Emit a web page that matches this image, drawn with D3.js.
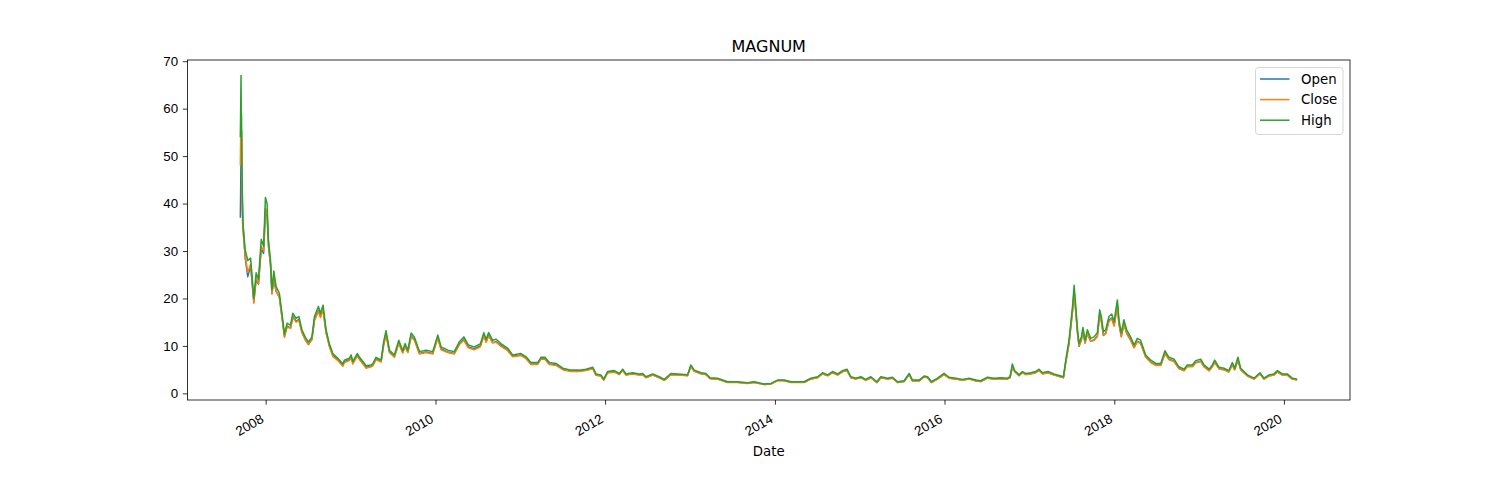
<!DOCTYPE html>
<html>
<head>
<meta charset="utf-8">
<script src="https://cdn.jsdelivr.net/npm/d3@7"></script>
<style>
    body { margin: 0; background: #fff; }
    svg { font-family: "DejaVu Sans", sans-serif; }
</style>
</head>
<body>
<div id="chart"></div>
<script>

// Values (one row per sample)
var dates = [
    '2007-09-14', '2007-09-17', '2007-09-18', '2007-09-19', '2007-09-21', '2007-09-25',
    '2007-10-05', '2007-10-16', '2007-10-28', '2007-11-04', '2007-11-11', '2007-11-21',
    '2007-12-01', '2007-12-13', '2007-12-23', '2007-12-31', '2008-01-07', '2008-01-13',
    '2008-01-22', '2008-01-28', '2008-02-05', '2008-02-15', '2008-02-29', '2008-03-11',
    '2008-03-22', '2008-04-02', '2008-04-17', '2008-04-27', '2008-05-11', '2008-05-23',
    '2008-06-05', '2008-06-19', '2008-07-03', '2008-07-18', '2008-07-29', '2008-08-15',
    '2008-08-24', '2008-09-04', '2008-09-17', '2008-10-01', '2008-10-16', '2008-11-07',
    '2008-11-28', '2008-12-05', '2008-12-26', '2009-01-03', '2009-01-10', '2009-01-29',
    '2009-02-08', '2009-03-01', '2009-03-08', '2009-03-30', '2009-04-06', '2009-04-20',
    '2009-05-12', '2009-05-23', '2009-06-02', '2009-06-17', '2009-07-08', '2009-07-27',
    '2009-08-13', '2009-08-23', '2009-09-04', '2009-09-18', '2009-10-02', '2009-10-24',
    '2009-11-21', '2009-12-20', '2010-01-11', '2010-01-25', '2010-02-23', '2010-03-23',
    '2010-04-14', '2010-05-03', '2010-05-22', '2010-06-17', '2010-07-13', '2010-07-28',
    '2010-08-07', '2010-08-18', '2010-09-04', '2010-09-19', '2010-10-10', '2010-11-08',
    '2010-11-29', '2011-01-04', '2011-01-26', '2011-02-16', '2011-03-17', '2011-03-31',
    '2011-04-17', '2011-05-06', '2011-06-04', '2011-07-03', '2011-08-07', '2011-09-12',
    '2011-10-11', '2011-11-09', '2011-11-23', '2011-12-14', '2011-12-26', '2012-01-12',
    '2012-02-10', '2012-03-02', '2012-03-17', '2012-03-31', '2012-04-29', '2012-05-27',
    '2012-06-11', '2012-06-25', '2012-07-24', '2012-08-21', '2012-09-12', '2012-10-10',
    '2012-11-08', '2012-12-21', '2013-01-04', '2013-01-19', '2013-02-17', '2013-03-10',
    '2013-03-28', '2013-04-29', '2013-06-11', '2013-07-24', '2013-09-05', '2013-10-04',
    '2013-11-16', '2013-12-15', '2014-01-12', '2014-02-10', '2014-03-11', '2014-04-09',
    '2014-05-07', '2014-06-05', '2014-07-04', '2014-07-25', '2014-08-16', '2014-09-06',
    '2014-09-28', '2014-10-19', '2014-11-07', '2014-11-24', '2014-12-15', '2015-01-06',
    '2015-01-27', '2015-02-18', '2015-03-16', '2015-04-02', '2015-05-01', '2015-05-22',
    '2015-06-13', '2015-07-11', '2015-08-02', '2015-08-16', '2015-09-14', '2015-10-05',
    '2015-10-20', '2015-11-06', '2015-12-02', '2015-12-30', '2016-01-21', '2016-02-19',
    '2016-03-18', '2016-04-16', '2016-05-15', '2016-06-05', '2016-07-04', '2016-08-01',
    '2016-08-30', '2016-09-28', '2016-10-09', '2016-10-19', '2016-10-29', '2016-11-17',
    '2016-12-01', '2016-12-16', '2017-01-06', '2017-01-28', '2017-02-11', '2017-02-26',
    '2017-03-22', '2017-04-16', '2017-05-27', '2017-06-06', '2017-06-20', '2017-07-05',
    '2017-07-12', '2017-07-19', '2017-07-26', '2017-08-02', '2017-08-12', '2017-08-19',
    '2017-08-28', '2017-09-07', '2017-09-21', '2017-10-06', '2017-10-20', '2017-10-30',
    '2017-11-06', '2017-11-15', '2017-11-25', '2017-12-09', '2017-12-21', '2017-12-31',
    '2018-01-14', '2018-01-21', '2018-01-31', '2018-02-11', '2018-02-23', '2018-03-12',
    '2018-03-27', '2018-04-10', '2018-04-24', '2018-05-16', '2018-06-07', '2018-06-28',
    '2018-07-20', '2018-08-07', '2018-08-24', '2018-09-15', '2018-10-06', '2018-10-28',
    '2018-11-11', '2018-12-03', '2018-12-17', '2019-01-08', '2019-01-22', '2019-02-13',
    '2019-02-27', '2019-03-09', '2019-03-28', '2019-04-18', '2019-05-09', '2019-05-24',
    '2019-06-03', '2019-06-17', '2019-06-29', '2019-07-28', '2019-08-25', '2019-09-20',
    '2019-10-07', '2019-10-29', '2019-11-19', '2019-12-04', '2019-12-25', '2020-01-15',
    '2020-02-06', '2020-02-27'
];

var openValues = [
    37.0, 50.0, 56.0, 54.0, 44.0, 35.5,
    28.5, 24.6, 27.0, 23.0, 19.3, 24.0,
    23.0, 30.5, 29.5, 38.0, 37.5, 31.0,
    27.0, 21.0, 24.0, 21.5, 20.3, 16.2,
    12.0, 14.2, 13.8, 16.2, 15.2, 15.6,
    12.9, 11.4, 10.3, 11.4, 15.5, 17.5,
    16.2, 17.8, 12.9, 10.1, 8.0, 7.1,
    5.9, 6.7, 7.1, 7.8, 6.4, 8.0,
    7.3, 6.0, 5.5, 5.7, 5.9, 7.3,
    6.7, 10.4, 12.6, 8.7, 7.7, 10.7,
    8.6, 10.0, 8.7, 12.1, 11.4, 8.4,
    8.7, 8.4, 11.8, 9.4, 8.7, 8.4,
    10.4, 11.4, 9.8, 9.4, 10.0, 12.3,
    10.9, 12.3, 10.7, 10.9, 10.1, 9.1,
    7.8, 8.1, 7.4, 6.2, 6.2, 7.3,
    7.3, 6.2, 6.0, 5.1, 4.7, 4.7,
    4.9, 5.3, 3.9, 3.7, 2.85, 4.4,
    4.6, 4.0, 4.9, 3.9, 4.15, 3.9,
    4.0, 3.35, 3.9, 3.35, 2.8, 4.0,
    3.9, 3.75, 5.7, 4.7, 4.15, 4.0,
    3.15, 3.05, 2.35, 2.35, 2.15, 2.35,
    1.88, 2.0, 2.7, 2.7, 2.35, 2.35,
    2.35, 3.05, 3.35, 4.15, 3.75, 4.4,
    3.9, 4.6, 4.9, 3.35, 3.05, 3.35,
    2.8, 3.35, 2.3, 3.35, 3.05, 3.25,
    2.3, 2.5, 4.0, 2.65, 2.65, 3.5,
    3.35, 2.3, 3.05, 4.0, 3.25, 3.05,
    2.8, 3.05, 2.65, 2.5, 3.25, 3.05,
    3.15, 3.05, 3.35, 5.6, 4.6, 3.75,
    4.4, 4.0, 4.15, 4.4, 4.9, 4.15,
    4.4, 3.9, 3.35, 6.6, 10.6, 17.4,
    21.5, 17.4, 13.0, 9.9, 11.3, 13.2,
    10.6, 12.7, 11.0, 11.3, 12.1, 16.7,
    15.4, 12.2, 12.7, 15.4, 15.9, 14.3,
    18.7, 14.7, 12.0, 14.7, 12.7, 11.3,
    9.7, 11.0, 10.6, 7.7, 6.6, 6.0,
    6.0, 8.5, 7.2, 6.8, 5.3, 4.8,
    5.7, 5.7, 6.5, 6.8, 5.7, 4.8,
    5.7, 6.6, 5.2, 5.0, 4.55, 6.1,
    5.0, 7.1, 5.0, 3.7, 3.05, 4.15,
    3.05, 3.7, 3.9, 4.55, 3.9, 3.9,
    3.05, 2.85
];

var closeValues = [
    48.0, 61.0, 54.0, 55.5, 40.0, 34.5,
    29.0, 25.5, 27.2, 23.5, 19.0, 24.3,
    23.2, 31.0, 30.0, 39.0, 38.0, 31.5,
    27.0, 21.0, 24.5, 21.5, 20.2, 16.0,
    11.8, 14.0, 13.7, 16.0, 15.0, 15.4,
    12.8, 11.3, 10.4, 11.3, 15.3, 17.3,
    16.0, 17.6, 12.7, 9.9, 7.8, 6.9,
    5.7, 6.5, 6.9, 7.6, 6.2, 7.8,
    7.1, 5.8, 5.3, 5.6, 5.8, 7.1,
    6.6, 10.2, 12.3, 8.6, 7.6, 10.5,
    8.5, 9.9, 8.6, 11.9, 11.2, 8.3,
    8.6, 8.3, 11.6, 9.2, 8.6, 8.3,
    10.3, 11.2, 9.6, 9.2, 9.8, 12.1,
    10.8, 12.1, 10.6, 10.8, 9.9, 9.0,
    7.7, 8.0, 7.3, 6.1, 6.1, 7.2,
    7.2, 6.1, 5.9, 5.0, 4.6, 4.6,
    4.8, 5.2, 3.8, 3.6, 2.8, 4.3,
    4.5, 3.95, 4.8, 3.85, 4.1, 3.85,
    3.95, 3.3, 3.85, 3.3, 2.75, 3.95,
    3.85, 3.7, 5.6, 4.65, 4.1, 3.95,
    3.1, 3.0, 2.3, 2.3, 2.1, 2.3,
    1.86, 1.98, 2.65, 2.65, 2.3, 2.3,
    2.3, 3.0, 3.3, 4.1, 3.7, 4.35,
    3.85, 4.55, 4.8, 3.3, 3.0, 3.3,
    2.75, 3.3, 2.28, 3.3, 3.0, 3.2,
    2.28, 2.48, 3.95, 2.6, 2.6, 3.45,
    3.3, 2.28, 3.0, 3.95, 3.2, 3.0,
    2.75, 3.0, 2.6, 2.48, 3.2, 3.0,
    3.1, 3.0, 3.3, 5.5, 4.55, 3.7,
    4.35, 3.95, 4.1, 4.35, 4.8, 4.1,
    4.35, 3.85, 3.3, 6.5, 10.5, 17.2,
    21.0, 17.2, 12.9, 10.0, 11.2, 13.0,
    10.7, 12.6, 11.0, 11.2, 12.0, 16.5,
    15.2, 12.3, 12.6, 15.2, 15.7, 14.2,
    18.4, 14.6, 11.9, 14.6, 12.6, 11.2,
    9.6, 10.9, 10.5, 7.6, 6.5, 5.9,
    5.9, 8.4, 7.1, 6.7, 5.2, 4.75,
    5.6, 5.6, 6.4, 6.7, 5.6, 4.75,
    5.6, 6.5, 5.15, 4.95, 4.5, 6.0,
    4.95, 7.0, 4.95, 3.65, 3.0, 4.1,
    3.0, 3.65, 3.85, 4.5, 3.85, 3.85,
    3.0, 2.8
];

var highValues = [
    54.0, 67.0, 58.0, 59.0, 47.0, 36.0,
    30.2, 28.0, 28.5, 24.5, 20.0, 25.4,
    24.0, 32.5, 31.0, 41.3, 40.0, 32.3,
    28.0, 21.8, 25.8, 22.5, 21.1, 16.9,
    12.5, 14.8, 14.4, 16.9, 15.8, 16.2,
    13.4, 11.9, 10.8, 11.9, 16.2, 18.3,
    16.9, 18.6, 13.4, 10.5, 8.4, 7.4,
    6.2, 7.0, 7.4, 8.1, 6.7, 8.4,
    7.6, 6.3, 5.8, 6.0, 6.2, 7.6,
    7.0, 10.9, 13.2, 9.1, 8.1, 11.2,
    9.0, 10.5, 9.1, 12.7, 11.9, 8.8,
    9.1, 8.8, 12.3, 9.8, 9.1, 8.8,
    10.9, 11.9, 10.2, 9.8, 10.4, 12.8,
    11.4, 12.8, 11.2, 11.4, 10.5, 9.5,
    8.1, 8.4, 7.7, 6.5, 6.5, 7.6,
    7.6, 6.5, 6.3, 5.3, 4.9, 4.9,
    5.1, 5.5, 4.1, 3.9, 3.0, 4.6,
    4.8, 4.2, 5.1, 4.1, 4.35, 4.1,
    4.2, 3.5, 4.1, 3.5, 2.95, 4.2,
    4.1, 3.9, 6.0, 4.9, 4.35, 4.2,
    3.3, 3.2, 2.45, 2.45, 2.25, 2.45,
    1.96, 2.1, 2.8, 2.8, 2.45, 2.45,
    2.45, 3.2, 3.5, 4.35, 3.9, 4.6,
    4.1, 4.8, 5.1, 3.5, 3.2, 3.5,
    2.95, 3.5, 2.45, 3.5, 3.2, 3.4,
    2.45, 2.66, 4.2, 2.8, 2.8, 3.65,
    3.5, 2.45, 3.2, 4.2, 3.4, 3.2,
    2.95, 3.2, 2.8, 2.66, 3.4, 3.2,
    3.3, 3.2, 3.5, 6.2, 4.8, 3.9,
    4.6, 4.2, 4.35, 4.6, 5.1, 4.35,
    4.6, 4.1, 3.5, 7.0, 11.2, 18.3,
    22.8, 18.3, 13.7, 10.5, 11.9, 13.9,
    11.2, 13.4, 11.6, 11.9, 12.8, 17.6,
    16.2, 13.0, 13.4, 16.2, 16.7, 15.1,
    19.7, 15.5, 12.7, 15.5, 13.4, 11.9,
    10.2, 11.6, 11.2, 8.1, 7.0, 6.3,
    6.3, 9.0, 7.6, 7.2, 5.6, 5.1,
    6.0, 6.0, 6.9, 7.2, 6.0, 5.1,
    6.0, 7.0, 5.5, 5.3, 4.8, 6.5,
    5.3, 7.6, 5.3, 3.9, 3.2, 4.35,
    3.2, 3.9, 4.1, 4.8, 4.1, 4.1,
    3.2, 3.0
];

var seriesNames = ['Open', 'Close', 'High'];
var seriesValues = [openValues, closeValues, highValues];
var colors = ['#1f77b4', '#ff7f0e', '#2ca02c'];
var yTicks = [0, 10, 20, 30, 40, 50, 60, 70];
var xTickYears = [2008, 2010, 2012, 2014, 2016, 2018, 2020];
var chartTitle = 'MAGNUM';
var xLabel = 'Date';

var width = 1500;
var height = 500;
var margin = {top: 60, left: 187.5, right: 150, bottom: 100};
var plotW = width - margin.left - margin.right;
var plotH = height - margin.top - margin.bottom;

var parseDate = d3.timeParse('%Y-%m-%d');
var parsed = dates.map(function (d) { return parseDate(d); });

var svg = d3.select('#chart').append('svg')
    .attr('width', width)
    .attr('height', height);

var g = svg.append('g')
    .attr('transform', 'translate(' + margin.left + ',' + margin.top + ')');

// matplotlib style 5% padding on both axes
var xExt = d3.extent(parsed);
var xPad = (xExt[1] - xExt[0]) * 0.05;
var xScale = d3.scaleTime()
    .domain([new Date(+xExt[0] - xPad), new Date(+xExt[1] + xPad)])
    .range([0, plotW]);

var allVals = [].concat(openValues, closeValues, highValues);
var yMin = d3.min(allVals);
var yMax = d3.max(allVals);
var yPad = (yMax - yMin) * 0.05;
var yScale = d3.scaleLinear()
    .domain([yMin - yPad, yMax + yPad])
    .range([plotH, 0]);

// Lines
var line = d3.line()
    .x(function (d, i) { return xScale(parsed[i]); })
    .y(function (d) { return yScale(d); });

seriesValues.forEach(function (vals, k) {
    g.append('path')
        .datum(vals)
        .attr('fill', 'none')
        .attr('stroke', colors[k])
        .attr('stroke-width', 1.5)
        .attr('stroke-linejoin', 'round')
        .attr('d', line);
});

// Axes
var tickLen = 4.67;
var xAxis = g.append('g')
    .attr('transform', 'translate(0,' + plotH + ')')
    .call(d3.axisBottom(xScale)
        .tickValues(xTickYears.map(function (y) { return new Date(y, 0, 1); }))
        .tickFormat(d3.timeFormat('%Y'))
        .tickSize(tickLen)
        .tickSizeOuter(0));
xAxis.select('.domain').remove();
xAxis.selectAll('line').attr('stroke', '#000').attr('stroke-width', 0.8);
xAxis.selectAll('text')
    .attr('font-size', '13.33px')
    .attr('fill', '#000')
    .attr('text-anchor', 'end')
    .attr('dy', null)
    .attr('y', null)
    .attr('transform', 'translate(-1.5,21.5) rotate(-30)');

var yAxis = g.append('g')
    .call(d3.axisLeft(yScale)
        .tickValues(yTicks)
        .tickSize(tickLen)
        .tickPadding(4.67)
        .tickSizeOuter(0));
yAxis.select('.domain').remove();
yAxis.selectAll('line').attr('stroke', '#000').attr('stroke-width', 0.8);
yAxis.selectAll('text')
    .attr('font-size', '13.33px')
    .attr('fill', '#000');

// Spines
g.append('rect')
    .attr('x', 0)
    .attr('y', 0)
    .attr('width', plotW)
    .attr('height', plotH)
    .attr('fill', 'none')
    .attr('stroke', '#000')
    .attr('stroke-width', 0.8);

// Title and axis label
svg.append('text')
    .attr('x', margin.left + plotW / 2)
    .attr('y', 52)
    .attr('text-anchor', 'middle')
    .attr('font-size', '16px')
    .text(chartTitle);

svg.append('text')
    .attr('x', margin.left + plotW / 2)
    .attr('y', 456)
    .attr('text-anchor', 'middle')
    .attr('font-size', '13.33px')
    .text(xLabel);

// Legend
var legend = svg.append('g')
    .attr('transform', 'translate(1255.5,67.5)');

legend.append('rect')
    .attr('width', 87.5)
    .attr('height', 67)
    .attr('rx', 3)
    .attr('fill', 'rgba(255,255,255,0.8)')
    .attr('stroke', '#cccccc')
    .attr('stroke-width', 0.8);

seriesNames.forEach(function (name, k) {
    var ly = 11.5 + k * 20.6;
    legend.append('line')
        .attr('x1', 4.5)
        .attr('x2', 34)
        .attr('y1', ly)
        .attr('y2', ly)
        .attr('stroke', colors[k])
        .attr('stroke-width', 1.5);
    legend.append('text')
        .attr('x', 45.5)
        .attr('y', ly)
        .attr('dy', '0.35em')
        .attr('font-size', '13.33px')
        .text(name);
});

</script>
</body>
</html>
